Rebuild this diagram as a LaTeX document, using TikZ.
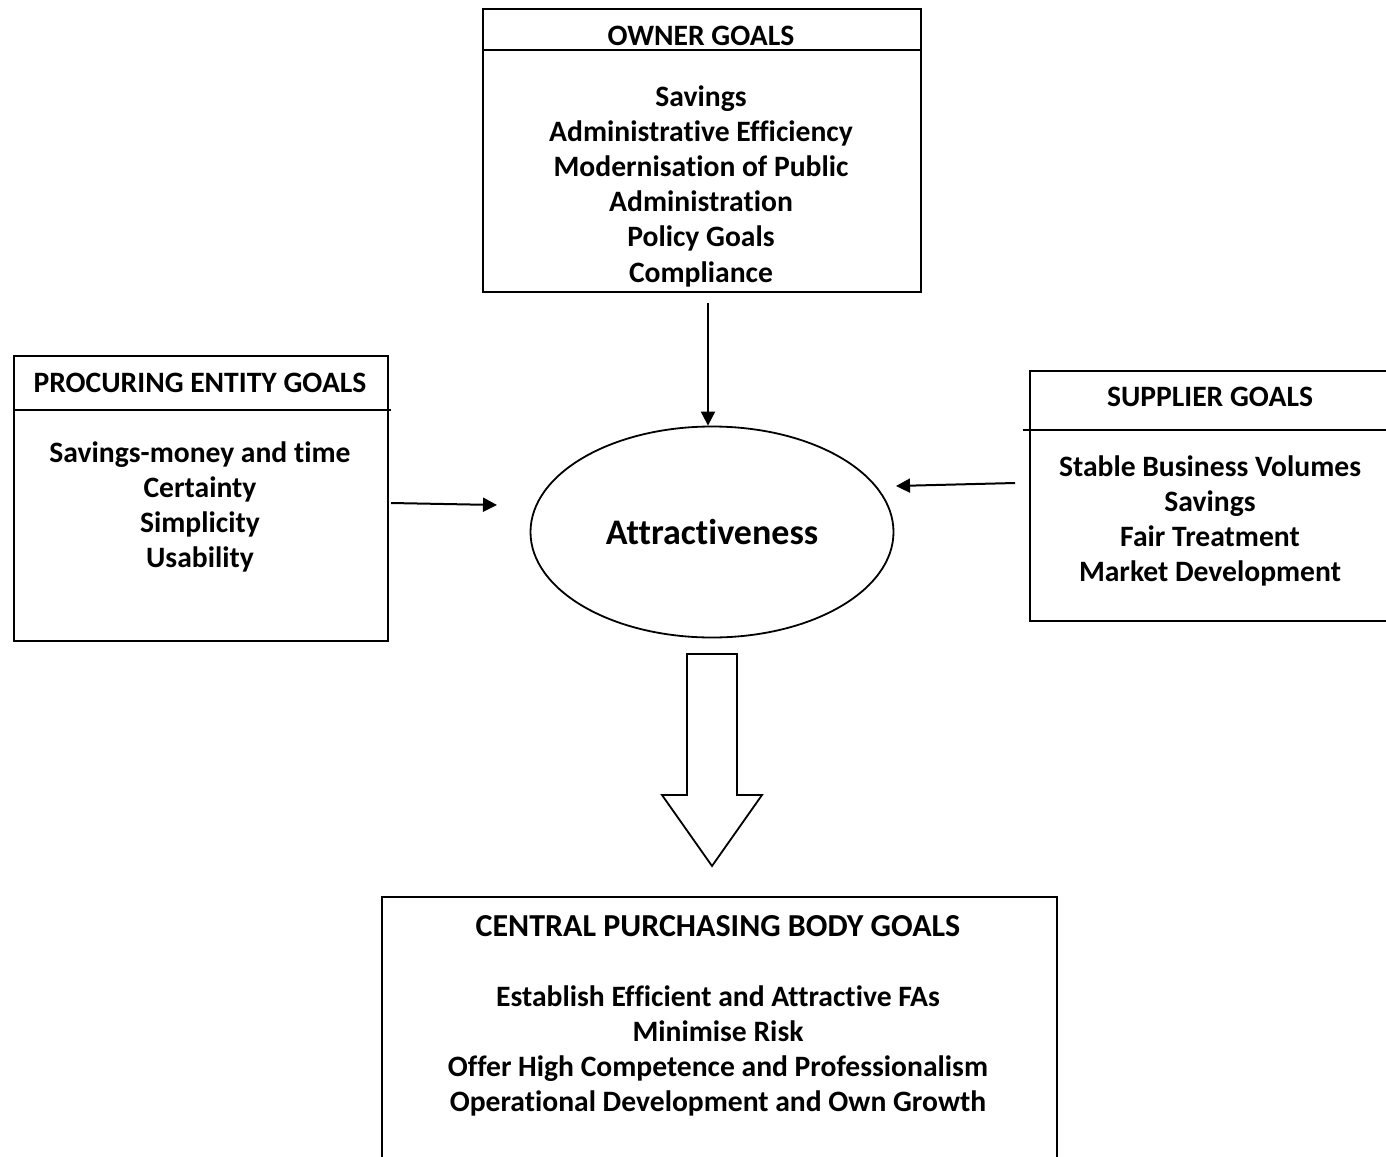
\documentclass[tikz,border=0pt]{standalone}
\usepackage{fontspec}
\setmainfont{Carlito}[Ligatures=NoCommon]
\usepackage{tikz}
\usetikzlibrary{arrows.meta,calc,positioning,shapes.geometric}

\tikzset{
  goalbox/.style={draw, line width=0.9pt, rectangle, inner sep=0pt},
  goaltitle/.style={font=\bfseries\fontsize{14.8}{17}\selectfont},
  goallist/.style={align=center, font=\bfseries\fontsize{14.8}{17.6}\selectfont},
  sepline/.style={line width=0.9pt},
  goalarrow/.style={line width=1pt, -{Triangle[length=7pt,width=7pt]}}
}

\begin{document}
\begin{tikzpicture}[x=0.5pt,y=-0.5pt]
\useasboundingbox (0,0) rectangle (1386,1156);

% owner
\node[goalbox, minimum width=219pt, minimum height=141.5pt, anchor=north west] (owner) at (482,8) {};
\draw[sepline] (482,50) -- (920,50);
\node[goaltitle] (ownerT) at (701,36) {OWNER GOALS};
\node[goallist] (ownerL) at (701,186) {Savings\\Administrative Efficiency\\Modernisation of Public\\Administration\\Policy Goals\\Compliance};

% procuring entity
\node[goalbox, minimum width=187pt, minimum height=142.5pt, anchor=north west] (proc) at (13,355) {};
\draw[sepline] (13,410) -- (391,410);
\node[goaltitle] (procT) at (200,383) {PROCURING ENTITY GOALS};
\node[goallist] (procL) at (200,507) {Savings-money and time\\Certainty\\Simplicity\\Usability};

% supplier (runs off the right edge)
\node[goalbox, minimum width=200pt, minimum height=125pt, anchor=north west] (supp) at (1029,370) {};
\draw[sepline] (1023,430) -- (1386,430);
\node[goaltitle] (suppT) at (1210,397) {SUPPLIER GOALS};
\node[goallist] (suppL) at (1210,521) {Stable Business Volumes\\Savings\\Fair Treatment\\Market Development};

% attractiveness
\node[draw, ellipse, line width=0.9pt, minimum width=181.5pt, minimum height=105.5pt, inner sep=0pt,
  font=\bfseries\fontsize{18}{21}\selectfont] (attr) at (712,532) {Attractiveness};

% central purchasing body (runs off the bottom edge)
\node[goalbox, minimum width=337.5pt, minimum height=150pt, anchor=north west] (cpb) at (381,896) {};
\node[goaltitle, font=\bfseries\fontsize{16}{19}\selectfont] (cpbT) at (718,926) {CENTRAL PURCHASING BODY GOALS};
\node[goallist] (cpbL) at (718,1051) {Establish Efficient and Attractive FAs\\Minimise Risk\\Offer High Competence and Professionalism\\Operational Development and Own Growth};

% arrows
\coordinate (ownerOut) at (708,303);
\coordinate (procOut) at (391,503);
\coordinate (procIn) at (497,505);
\coordinate (suppOut) at (1015,483);
\coordinate (suppIn) at (896,486);
\draw[goalarrow] (ownerOut) -- (attr.north -| ownerOut);
\draw[goalarrow] (procOut) -- (procIn);
\draw[goalarrow] (suppOut) -- (suppIn);

% big arrow down
\draw[line width=0.9pt, fill=white] (687,654) -- (737,654) -- (737,795) -- (762,795) -- (712,866)
  -- (662,795) -- (687,795) -- cycle;
\end{tikzpicture}
\end{document}
